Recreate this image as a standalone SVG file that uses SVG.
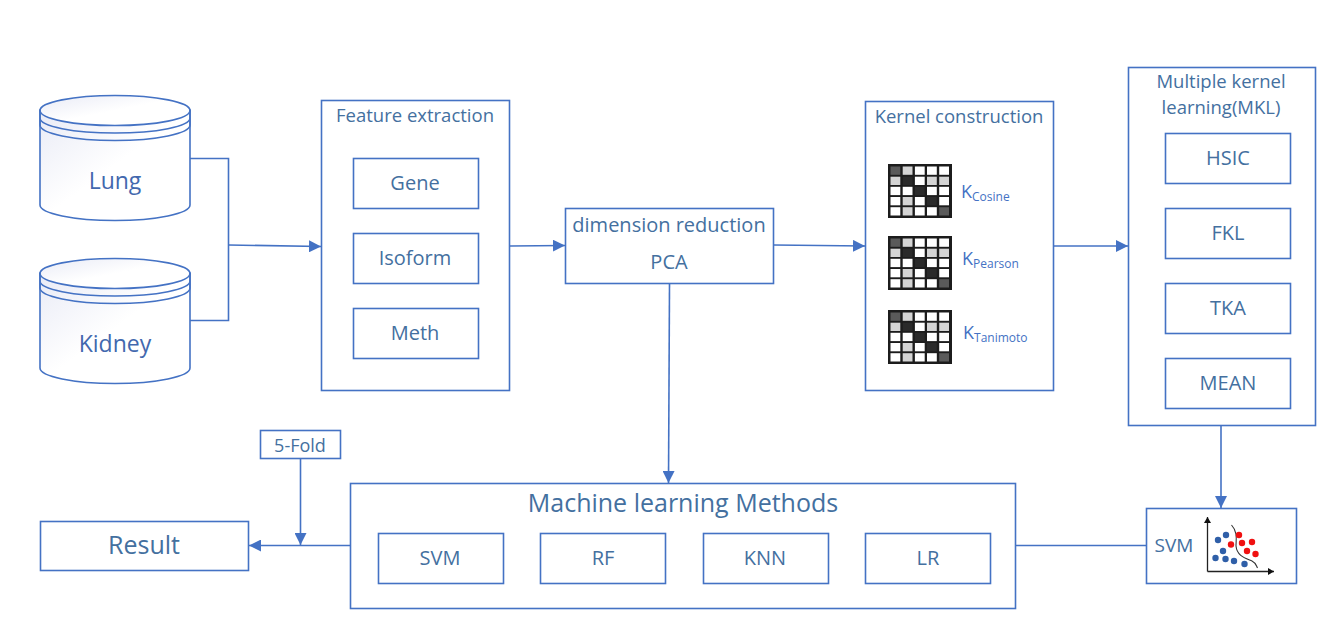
<svg xmlns="http://www.w3.org/2000/svg" width="1338" height="638" viewBox="0 0 1338 638">
<style>
.box{fill:#fff;stroke:#4472c4;stroke-width:1.6}
.cyl{fill:url(#cg);stroke:#4472c4;stroke-width:1.6}
.ln{fill:none;stroke:#4472c4;stroke-width:1.6}
text{font-family:"Open Sans","Noto Sans","Liberation Sans",sans-serif;fill:#44709f;text-anchor:middle}
.t20{font-size:20px}
.t18{font-size:18.5px}
.k{fill:#4472c4;text-anchor:start;font-size:18px}
.k tspan{font-size:12px}
.ax{fill:none;stroke:#222;stroke-width:1.3}
.b{fill:#2f5fa8}.r{fill:#f01010}
</style>
<defs>
<marker id="arr" markerUnits="userSpaceOnUse" markerWidth="13" markerHeight="12" refX="12" refY="6" orient="auto"><path d="M0 0L12 6L0 12Z" fill="#4472c4"/></marker>
<marker id="ah" markerUnits="userSpaceOnUse" markerWidth="7" markerHeight="7" refX="6" refY="3.5" orient="auto"><path d="M0 0L6 3.5L0 7Z" fill="#111"/></marker>
<linearGradient id="cg" x1="0" y1="0" x2="1" y2="1"><stop offset="0" stop-color="#e9ebf6"/><stop offset=".5" stop-color="#fff"/></linearGradient>
<g id="mat">
<rect width="64" height="54" fill="#1c1c1c"/>
<g fill="#fff">
<rect x="2.500" y="2.500" width="9.800" height="8.300" fill="#5a5a5a"/><rect x="14.700" y="2.500" width="9.800" height="8.300" fill="#d4d4d4"/><rect x="26.900" y="2.500" width="9.800" height="8.300"/><rect x="39" y="2.500" width="9.800" height="8.300"/><rect x="51.200" y="2.500" width="9.800" height="8.300"/>
<rect x="2.500" y="12.700" width="9.800" height="8.300" fill="#d4d4d4"/><rect x="14.700" y="12.700" width="9.800" height="8.300" fill="#2a2a2a"/><rect x="26.900" y="12.700" width="9.800" height="8.300"/><rect x="39" y="12.700" width="9.800" height="8.300" fill="#d4d4d4"/><rect x="51.200" y="12.700" width="9.800" height="8.300" fill="#d4d4d4"/>
<rect x="2.500" y="22.800" width="9.800" height="8.300"/><rect x="14.700" y="22.800" width="9.800" height="8.300"/><rect x="26.900" y="22.800" width="9.800" height="8.300" fill="#2a2a2a"/><rect x="39" y="22.800" width="9.800" height="8.300"/><rect x="51.200" y="22.800" width="9.800" height="8.300"/>
<rect x="2.500" y="33" width="9.800" height="8.300"/><rect x="14.700" y="33" width="9.800" height="8.300" fill="#d4d4d4"/><rect x="26.900" y="33" width="9.800" height="8.300"/><rect x="39" y="33" width="9.800" height="8.300" fill="#2a2a2a"/><rect x="51.200" y="33" width="9.800" height="8.300"/>
<rect x="2.500" y="43.200" width="9.800" height="8.300"/><rect x="14.700" y="43.200" width="9.800" height="8.300" fill="#d4d4d4"/><rect x="26.900" y="43.200" width="9.800" height="8.300"/><rect x="39" y="43.200" width="9.800" height="8.300"/><rect x="51.200" y="43.200" width="9.800" height="8.300" fill="#5a5a5a"/>
</g>
</g>
</defs>

<g id="connectors">
<path class="ln" d="M190 158.500H228.500V320.500H190"/>
<path class="ln" d="M228.500 245L321 246.500" marker-end="url(#arr)"/>
<path class="ln" d="M510 246L565 245.500" marker-end="url(#arr)"/>
<path class="ln" d="M774 245L865 246" marker-end="url(#arr)"/>
<path class="ln" d="M1054 246H1128" marker-end="url(#arr)"/>
<path class="ln" d="M669.500 284L668.500 483" marker-end="url(#arr)"/>
<path class="ln" d="M1221 426V508" marker-end="url(#arr)"/>
<path class="ln" d="M1016 545.500H1146"/>
<path class="ln" d="M350 545.500H249" marker-end="url(#arr)"/>
<path class="ln" d="M300.500 459V545" marker-end="url(#arr)"/>
</g>

<g id="lung">
<path class="cyl" d="M40 110V205C40 213.500 74 220.500 115 220.500S190 213.500 190 205V110Z"/>
<ellipse class="cyl" cx="115" cy="110.500" rx="75" ry="15"/>
<path class="ln" d="M40 110V118C40 126.500 74 133 115 133S190 126.500 190 118V110M40 118V125C40 133.500 74 140.500 115 140.500S190 133.500 190 125V118"/>
<text x="115" y="189" font-size="23" style="fill:#4268ae">Lung</text>
</g>
<g id="kidney">
<path class="cyl" d="M40 273V368C40 376.500 74 383.500 115 383.500S190 376.500 190 368V273Z"/>
<ellipse class="cyl" cx="115" cy="273.500" rx="75" ry="15"/>
<path class="ln" d="M40 273V281C40 289.500 74 296 115 296S190 289.500 190 281V273M40 281V288C40 296.500 74 303.500 115 303.500S190 296.500 190 288V281"/>
<text x="115" y="352" font-size="23" style="fill:#4268ae">Kidney</text>
</g>

<g id="feature-extraction">
<rect class="box" x="321.500" y="100.500" width="188" height="290"/>
<text class="t18" x="415" y="122">Feature extraction</text>
</g>
<g id="gene"><rect class="box" x="353.500" y="158.500" width="125" height="50"/><text class="t20" x="415" y="190">Gene</text></g>
<g id="isoform"><rect class="box" x="353.500" y="233.500" width="125" height="50"/><text class="t20" x="415" y="265">Isoform</text></g>
<g id="meth"><rect class="box" x="353.500" y="308.500" width="125" height="50"/><text class="t20" x="415" y="340">Meth</text></g>

<g id="dimension-reduction">
<rect class="box" x="565.500" y="208.500" width="208" height="75"/>
<text x="669" y="232" font-size="20">dimension reduction</text>
<text class="t20" x="669" y="269">PCA</text>
</g>

<g id="kernel-construction">
<rect class="box" x="865.500" y="101.500" width="188" height="289"/>
<text class="t18" x="959" y="123">Kernel construction</text>
<use href="#mat" x="888" y="164"/>
<use href="#mat" x="888" y="236"/>
<use href="#mat" x="888" y="310"/>
<text class="k" x="961" y="198">K<tspan dy="3">Cosine</tspan></text>
<text class="k" x="962" y="265">K<tspan dy="3">Pearson</tspan></text>
<text class="k" x="963" y="339">K<tspan dy="3">Tanimoto</tspan></text>
</g>

<g id="mkl">
<rect class="box" x="1128.500" y="67.500" width="187" height="358"/>
<text class="t18" x="1221" y="88">Multiple kernel</text>
<text class="t18" x="1221" y="114">learning(MKL)</text>
</g>
<g id="hsic"><rect class="box" x="1165.500" y="133.500" width="125" height="50"/><text class="t20" x="1228" y="165">HSIC</text></g>
<g id="fkl"><rect class="box" x="1165.500" y="208.500" width="125" height="50"/><text class="t20" x="1228" y="240">FKL</text></g>
<g id="tka"><rect class="box" x="1165.500" y="283.500" width="125" height="50"/><text class="t20" x="1228" y="315">TKA</text></g>
<g id="mean"><rect class="box" x="1165.500" y="358.500" width="125" height="50"/><text class="t20" x="1228" y="390">MEAN</text></g>

<g id="svm-plot">
<rect class="box" x="1146.500" y="508.500" width="150" height="75"/>
<text x="1174" y="552" font-size="19">SVM</text>
<path class="ax" d="M1207.500 571.500V517" marker-end="url(#ah)"/>
<path class="ax" d="M1207.500 571.500H1274" marker-end="url(#ah)"/>
<path d="M1231.500 525C1238 532 1236 540 1236 546C1237 556 1245 558 1252 561C1256 563 1256 565 1257.500 568" fill="none" stroke="#333" stroke-width="1.100"/>
<g class="b"><circle cx="1218" cy="540" r="3.200"/><circle cx="1226" cy="535" r="3.200"/><circle cx="1223" cy="551" r="3.200"/><circle cx="1215.500" cy="558" r="3.200"/><circle cx="1225.500" cy="559" r="3.200"/><circle cx="1234" cy="561" r="3.200"/><circle cx="1244.500" cy="564" r="3.200"/></g>
<g class="r"><circle cx="1239" cy="535" r="3.200"/><circle cx="1231" cy="544.500" r="3.200"/><circle cx="1242" cy="543" r="3.200"/><circle cx="1252" cy="542" r="3.200"/><circle cx="1247" cy="551" r="3.200"/><circle cx="1255.500" cy="554" r="3.200"/></g>
</g>

<g id="ml-methods">
<rect class="box" x="350.500" y="483.500" width="665" height="125"/>
<text x="683" y="512" font-size="25">Machine learning Methods</text>
</g>
<g id="svm"><rect class="box" x="378.500" y="533.500" width="125" height="50"/><text class="t20" x="440" y="565">SVM</text></g>
<g id="rf"><rect class="box" x="540.500" y="533.500" width="125" height="50"/><text class="t20" x="603" y="565">RF</text></g>
<g id="knn"><rect class="box" x="703.500" y="533.500" width="125" height="50"/><text class="t20" x="765" y="565">KNN</text></g>
<g id="lr"><rect class="box" x="865.500" y="533.500" width="125" height="50"/><text class="t20" x="928" y="565">LR</text></g>

<g id="five-fold"><rect class="box" x="260.500" y="430.500" width="80" height="28"/><text x="300" y="452" font-size="18">5-Fold</text></g>
<g id="result"><rect class="box" x="40.500" y="521.500" width="208" height="49"/><text x="144" y="554" font-size="25">Result</text></g>
</svg>
